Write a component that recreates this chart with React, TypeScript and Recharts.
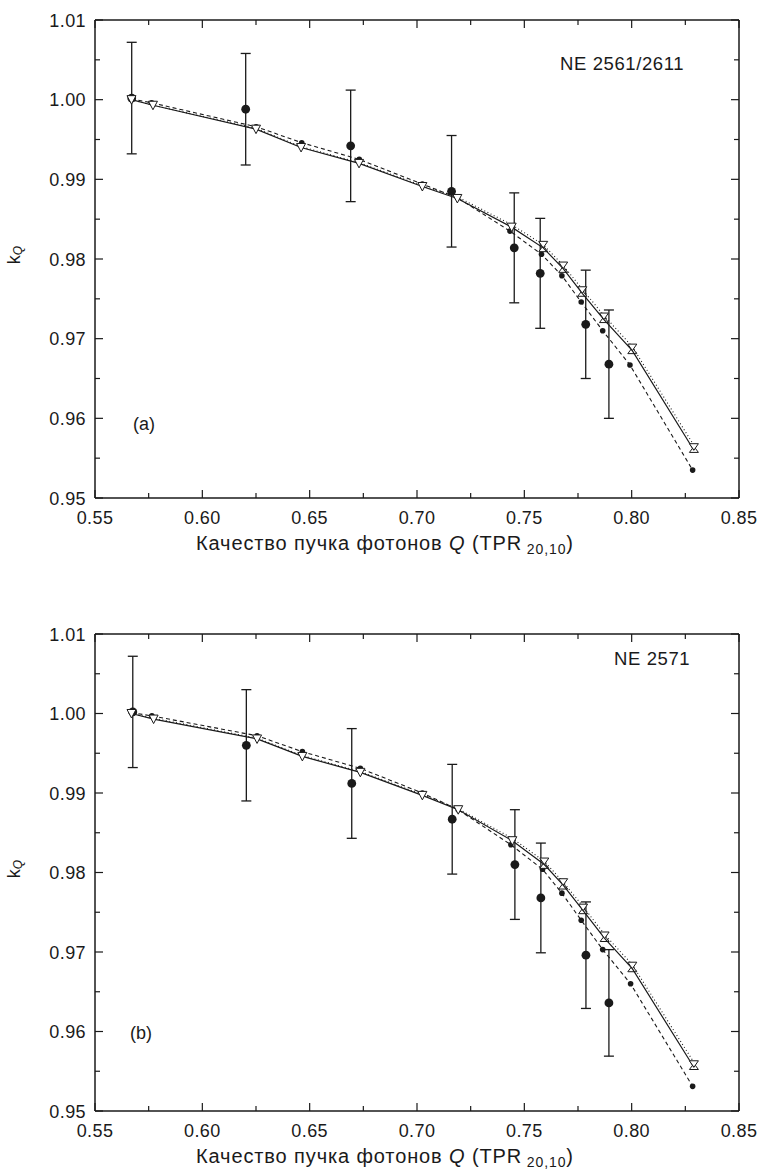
import React from 'react';
import { ScatterChart, Scatter, XAxis, YAxis, ErrorBar } from 'recharts';

// panel (a) NE 2561/2611
const qCalcA = [0.567, 0.577, 0.625, 0.646, 0.673, 0.7025, 0.7188, 0.7441, 0.7588, 0.7681, 0.777, 0.7871, 0.8003, 0.829];
const kSolidA = [1.0, 0.9993, 0.9963, 0.994, 0.992, 0.9891, 0.9876, 0.984, 0.9814, 0.9788, 0.9757, 0.9724, 0.9685, 0.956];
const kDottedA = [1.0, 0.9993, 0.9964, 0.9941, 0.9921, 0.9892, 0.9878, 0.9843, 0.9818, 0.9792, 0.9762, 0.9729, 0.969, 0.9566];
const qDashedA = [0.567, 0.5764, 0.6251, 0.6463, 0.6731, 0.7025, 0.7188, 0.7433, 0.758, 0.7675, 0.7765, 0.7865, 0.7992, 0.8284];
const kDashedA = [1.0001, 0.9996, 0.9966, 0.9946, 0.9925, 0.9894, 0.9877, 0.9835, 0.9806, 0.9779, 0.9746, 0.971, 0.9667, 0.9535];
const qMeasA = [0.5671, 0.6202, 0.6691, 0.7161, 0.7453, 0.7574, 0.7786, 0.7894];
const kMeasA = [1.0002, 0.9988, 0.9942, 0.9885, 0.9814, 0.9782, 0.9718, 0.9668];
const errMeasA = [0.007, 0.007, 0.007, 0.007, 0.0069, 0.0069, 0.0068, 0.0068];

// panel (b) NE 2571
const qCalcB = [0.567, 0.5773, 0.6255, 0.6466, 0.6736, 0.7025, 0.7192, 0.7444, 0.7593, 0.7681, 0.7774, 0.7874, 0.8003, 0.829];
const kSolidB = [1.0, 0.9993, 0.9968, 0.9946, 0.9926, 0.9897, 0.9879, 0.984, 0.981, 0.9784, 0.9752, 0.9717, 0.9679, 0.9555];
const kDottedB = [1.0, 0.9994, 0.9969, 0.9947, 0.9927, 0.9898, 0.988, 0.9843, 0.9814, 0.9788, 0.9757, 0.9722, 0.9684, 0.9561];
const qDashedB = [0.567, 0.5765, 0.6255, 0.6466, 0.6736, 0.7025, 0.7192, 0.7437, 0.7585, 0.7675, 0.7765, 0.7865, 0.7995, 0.8284];
const kDashedB = [1.0001, 0.9997, 0.9972, 0.9952, 0.9931, 0.99, 0.9879, 0.9835, 0.9804, 0.9774, 0.974, 0.9703, 0.966, 0.9531];
const qMeasB = [0.5676, 0.6205, 0.6696, 0.7164, 0.7456, 0.7577, 0.7787, 0.7894];
const kMeasB = [1.0002, 0.996, 0.9912, 0.9867, 0.981, 0.9768, 0.9696, 0.9636];
const errMeasB = [0.007, 0.007, 0.0069, 0.0069, 0.0069, 0.0069, 0.0067, 0.0067];

const xTicks = [0.55, 0.575, 0.6, 0.625, 0.65, 0.675, 0.7, 0.725, 0.75, 0.775, 0.8, 0.825, 0.85];
const yTicks = [0.95, 0.955, 0.96, 0.965, 0.97, 0.975, 0.98, 0.985, 0.99, 0.995, 1.0, 1.005, 1.01];

const FONT = '"Liberation Sans", Arial, Helvetica, sans-serif';
const INK = '#1a1a1a';

const zip = (xs: number[], ys: number[], errs?: number[]) =>
  xs.map((x, i) => (errs ? { x, y: ys[i], err: errs[i] } : { x, y: ys[i] }));

const isMajor = (v: number, step: number) => Math.abs(v / step - Math.round(v / step)) < 1e-6;

// hourglass marks start where the up-triangle series shows
const HOURGLASS_FROM = 0.755;

const BottomTick = (p: any) => {
  const v = p.payload.value;
  const major = isMajor(v, 0.05);
  return (
    <g>
      <line x1={p.x} x2={p.x} y1={p.y} y2={p.y - (major ? 8 : 5)} stroke={INK} strokeWidth={1.2} />
      {major && (
        <text x={p.x} y={p.y + 26} textAnchor="middle" fontSize={18} letterSpacing={0.4} fontFamily={FONT} fill={INK}>
          {v.toFixed(2)}
        </text>
      )}
    </g>
  );
};

const TopTick = (p: any) => {
  const major = isMajor(p.payload.value, 0.05);
  return <line x1={p.x} x2={p.x} y1={p.y} y2={p.y + (major ? 8 : 5)} stroke={INK} strokeWidth={1.2} />;
};

const LeftTick = (p: any) => {
  const v = p.payload.value;
  const major = isMajor(v, 0.01);
  return (
    <g>
      <line x1={p.x} x2={p.x + (major ? 8 : 5)} y1={p.y} y2={p.y} stroke={INK} strokeWidth={1.2} />
      {major && (
        <text x={p.x - 9} y={p.y + 6.5} textAnchor="end" fontSize={18} letterSpacing={0.4} fontFamily={FONT} fill={INK}>
          {v.toFixed(2)}
        </text>
      )}
    </g>
  );
};

const RightTick = (p: any) => {
  const major = isMajor(p.payload.value, 0.01);
  return <line x1={p.x} x2={p.x - (major ? 8 : 5)} y1={p.y} y2={p.y} stroke={INK} strokeWidth={1.2} />;
};

const SmallDot = (p: any) => <circle cx={p.cx} cy={p.cy} r={2.8} fill={INK} />;
const BigDot = (p: any) => <circle cx={p.cx} cy={p.cy} r={4.4} fill={INK} />;
const DownTri = (p: any) => {
  const hg = p.payload && p.payload.x > HOURGLASS_FROM;
  const top = hg ? p.cy - 6.5 : p.cy - 4;
  const bot = hg ? p.cy : p.cy + 4.5;
  return (
    <path
      d={`M${p.cx - 4.5},${top}L${p.cx + 4.5},${top}L${p.cx},${bot}Z`}
      fill="#fff"
      stroke={INK}
      strokeWidth={1}
    />
  );
};
const UpTri = (p: any) =>
  p.payload && p.payload.x > HOURGLASS_FROM ? (
    <path
      d={`M${p.cx},${p.cy + 1}L${p.cx + 4.5},${p.cy + 7}L${p.cx - 4.5},${p.cy + 7}Z`}
      fill="#fff"
      stroke={INK}
      strokeWidth={1}
    />
  ) : (
    <g />
  );

const axisLine = { stroke: INK, strokeWidth: 1.5 };

function Panel(props: {
  height: number;
  solid: any[];
  dotted: any[];
  dashed: any[];
  meas: any[];
}) {
  return (
    <ScatterChart width={762} height={props.height} margin={{ top: 19, right: 22, left: 94, bottom: 32 }}>
      <XAxis
        xAxisId="b"
        type="number"
        dataKey="x"
        domain={[0.55, 0.85]}
        ticks={xTicks}
        interval={0}
        allowDataOverflow
        tickLine={false}
        tickSize={0}
        tickMargin={0}
        tick={<BottomTick />}
        axisLine={axisLine}
        height={50}
      />
      <XAxis
        xAxisId="t"
        orientation="top"
        type="number"
        dataKey="x"
        domain={[0.55, 0.85]}
        ticks={xTicks}
        interval={0}
        allowDataOverflow
        tickLine={false}
        tickSize={0}
        tickMargin={0}
        tick={<TopTick />}
        axisLine={axisLine}
        height={1}
      />
      <YAxis
        yAxisId="l"
        type="number"
        dataKey="y"
        domain={[0.95, 1.01]}
        ticks={yTicks}
        interval={0}
        allowDataOverflow
        tickLine={false}
        tickSize={0}
        tickMargin={0}
        tick={<LeftTick />}
        axisLine={axisLine}
        width={1}
      />
      <YAxis
        yAxisId="r"
        orientation="right"
        type="number"
        dataKey="y"
        domain={[0.95, 1.01]}
        ticks={yTicks}
        interval={0}
        allowDataOverflow
        tickLine={false}
        tickSize={0}
        tickMargin={0}
        tick={<RightTick />}
        axisLine={axisLine}
        width={1}
      />
      <Scatter
        xAxisId="b"
        yAxisId="l"
        data={props.meas}
        fill={INK}
        shape={<BigDot />}
        isAnimationActive={false}
      >
        <ErrorBar dataKey="err" direction="y" width={5} stroke={INK} strokeWidth={1.3} />
      </Scatter>
      <Scatter
        xAxisId="b"
        yAxisId="l"
        data={props.dashed}
        fill={INK}
        line={{ stroke: INK, strokeWidth: 1.1, strokeDasharray: '4 3' }}
        lineType="joint"
        shape={<SmallDot />}
        isAnimationActive={false}
      />
      <Scatter
        xAxisId="b"
        yAxisId="l"
        data={props.dotted}
        fill={INK}
        line={{ stroke: INK, strokeWidth: 1.1, strokeDasharray: '1 2.5' }}
        lineType="joint"
        shape={<UpTri />}
        isAnimationActive={false}
      />
      <Scatter
        xAxisId="b"
        yAxisId="l"
        data={props.solid}
        fill={INK}
        line={{ stroke: INK, strokeWidth: 1.2 }}
        lineType="joint"
        shape={<DownTri />}
        isAnimationActive={false}
      />
    </ScatterChart>
  );
}

function XTitle({ y }: { y: number }) {
  return (
    <text x={196} y={y} fontSize={20} fontFamily={FONT} fill={INK} textLength={377} lengthAdjust="spacing">
      Качество пучка фотонов <tspan fontStyle="italic">Q</tspan> (TPR
      <tspan fontSize={14} dy={4}> 20,10</tspan>
      <tspan dy={-4}>)</tspan>
    </text>
  );
}

function YTitle({ cy }: { cy: number }) {
  return (
    <text x={20} y={cy} transform={`rotate(-90 20 ${cy})`} textAnchor="middle" fontSize={18} fontFamily={FONT} fill={INK}>
      k<tspan fontSize={12} fontStyle="italic" dy={2}>Q</tspan>
    </text>
  );
}

export default function App() {
  return (
    <div style={{ position: 'absolute', left: 0, top: 0, width: 762, height: 1171, background: '#fff' }}>
      <div style={{ position: 'absolute', left: 0, top: 0 }}>
        <Panel
          height={580}
          solid={zip(qCalcA, kSolidA)}
          dotted={zip(qCalcA, kDottedA)}
          dashed={zip(qDashedA, kDashedA)}
          meas={zip(qMeasA, kMeasA, errMeasA)}
        />
      </div>
      <div style={{ position: 'absolute', left: 0, top: 614 }}>
        <Panel
          height={579}
          solid={zip(qCalcB, kSolidB)}
          dotted={zip(qCalcB, kDottedB)}
          dashed={zip(qDashedB, kDashedB)}
          meas={zip(qMeasB, kMeasB, errMeasB)}
        />
      </div>
      <svg width={762} height={1171} style={{ position: 'absolute', left: 0, top: 0, pointerEvents: 'none' }}>
        <text x={560} y={70} fontSize={18.5} letterSpacing={0.6} fontFamily={FONT} fill={INK}>NE 2561/2611</text>
        <text x={614} y={665} fontSize={18.5} letterSpacing={0.6} fontFamily={FONT} fill={INK}>NE 2571</text>
        <text x={133} y={430} fontSize={18} fontFamily={FONT} fill={INK}>(a)</text>
        <text x={130} y={1039} fontSize={18} fontFamily={FONT} fill={INK}>(b)</text>
        <XTitle y={550} />
        <XTitle y={1163} />
        <YTitle cy={255} />
        <YTitle cy={869} />
      </svg>
    </div>
  );
}
